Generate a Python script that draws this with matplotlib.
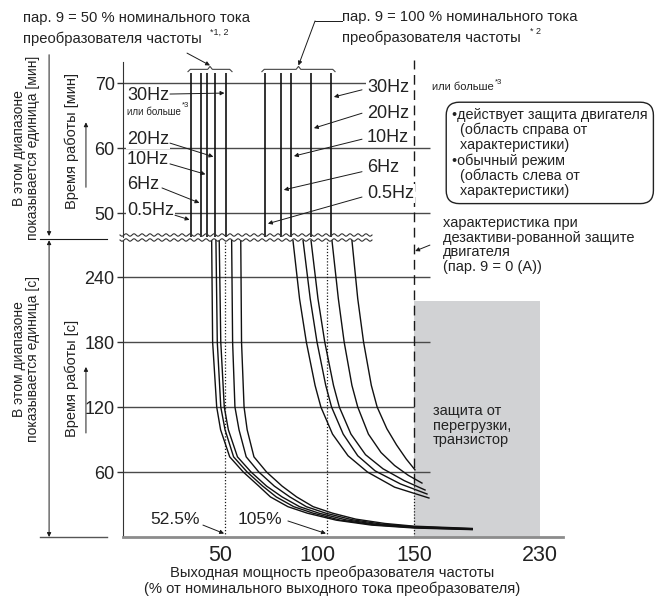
import numpy as np
import matplotlib.pyplot as plt
from matplotlib.lines import Line2D
from matplotlib.patches import Rectangle

plt.rcParams['font.family'] = ['Liberation Sans', 'DejaVu Sans']

W, H = 656, 596

# ---- values ----
hz_labels = ['0.5Hz', '6Hz', '10Hz', '20Hz', '30Hz']
trip_50 = [35.1, 40.2, 43.3, 47.4, 53.1]      # % of inverter current, minute range
trip_100 = [73.2, 81.4, 86.6, 96.9, 107.2]
trip_top = 71.6                                # min

curve50_x = [
    [45.7, 46.2, 48.3, 50.3, 55.0, 62.0, 70.0, 76.0, 85.0, 95.0, 110.0, 128.0, 150.0, 180.0],
    [47.9, 48.6, 50.4, 52.6, 57.0, 64.0, 72.0, 79.0, 88.0, 98.0, 112.0, 130.0, 150.0, 180.0],
    [49.6, 50.4, 52.2, 54.3, 59.0, 66.0, 74.0, 82.0, 91.0, 101.0, 115.0, 131.0, 150.0, 180.0],
    [56.0, 56.5, 57.7, 59.8, 63.5, 70.0, 78.0, 86.0, 94.5, 104.5, 118.0, 133.0, 150.0, 180.0],
    [60.7, 61.1, 62.4, 64.0, 67.5, 74.0, 82.0, 89.5, 98.0, 108.0, 120.0, 135.0, 150.0, 180.0],
]
curve50_s = [
    [274, 180, 120, 99, 74, 60, 47, 37, 28, 22, 15.5, 11.0, 8.3, 6.8],
    [274, 180, 120, 99, 74, 60, 47, 37, 28, 22, 15.6, 11.2, 8.7, 7.0],
    [274, 180, 120, 99, 74, 60, 47, 37, 28, 22, 15.8, 11.6, 9.1, 7.3],
    [274, 180, 120, 99, 74, 60, 47, 37, 28, 22, 16.0, 12.0, 9.5, 7.6],
    [274, 180, 120, 99, 74, 60, 47, 37, 28, 22, 16.5, 12.5, 10.0, 7.9],
]
curve100_x = [
    [87.6, 91.0, 94.5, 99.0, 102.0, 108.0, 116.0, 126.0, 140.0, 157.7],
    [92.8, 96.5, 100.0, 104.5, 107.5, 113.5, 121.0, 130.0, 143.0, 156.7],
    [96.9, 100.5, 104.0, 108.5, 111.5, 117.5, 125.0, 134.0, 145.0, 155.7],
    [107.7, 111.0, 114.0, 118.0, 121.0, 126.5, 133.0, 140.0, 147.0, 154.1],
    [118.0, 121.0, 124.0, 128.0, 131.0, 136.0, 141.0, 146.0, 150.5],
]
curve100_s = [
    [274, 220, 180, 140, 120, 95, 75, 60, 46, 36],
    [274, 220, 180, 140, 120, 95, 75, 61, 49, 39.7],
    [274, 220, 180, 140, 120, 95, 76, 63, 52, 43.4],
    [274, 220, 180, 140, 120, 95, 78, 66, 57, 49.8],
    [274, 220, 180, 140, 120, 100, 85, 72, 62],
]

x_ticks = [50, 100, 150, 215]
x_ticklabels = ['50', '100', '150', '230']
min_ticks = [50, 60, 70]
sec_ticks = [60, 120, 180, 240]
marks = [52.5, 105]
mark_labels = ['52.5%', '105%']
motor_off = 150
zone_x = [150, 215]
zone_top = 218

ink = '#1a1a1a'
grid_c = '#4a4a4a'
txt_c = '#222222'


def fx(px):
    return px / W


def fy(py):
    return 1 - py / H


fig = plt.figure(figsize=(W / 100, H / 100), dpi=100)
ax_lo = fig.add_axes([fx(123), fy(537), (563 - 123) / W, (537 - 240) / H])
ax_up = fig.add_axes([fx(123), fy(237), (563 - 123) / W, (237 - 62) / H])
xmax = 440 / 1.94
for ax in (ax_lo, ax_up):
    ax.set_xlim(0, xmax)
    ax.patch.set_alpha(0)
    ax.spines['right'].set_visible(False)
    ax.spines['top'].set_visible(False)
    ax.spines['left'].set_color('#333333')
    ax.tick_params(axis='y', direction='out', length=4.5, width=1, color='#333333',
                   labelsize=13, pad=1.5, labelcolor=txt_c)
ax_lo.set_ylim(0, 274.2)
ax_up.set_ylim(46.35, 73.28)
ax_up.spines['bottom'].set_visible(False)
ax_up.set_xticks([])
ax_lo.spines['bottom'].set_color('#8c8c8c')
ax_lo.spines['bottom'].set_linewidth(2)
ax_lo.set_yticks(sec_ticks)
ax_up.set_yticks(min_ticks)
ax_lo.set_xticks(x_ticks, x_ticklabels)
ax_lo.tick_params(axis='x', length=0, pad=6, labelsize=15.5, labelcolor=txt_c)

# grid lines
ax_up.hlines(70, 0, 125, color=grid_c, lw=1)
ax_up.hlines([60, 50], 0, 158, color=grid_c, lw=1)
ax_lo.hlines([240, 180, 60], 0, 158, color=grid_c, lw=1, zorder=2)
ax_lo.hlines(120, 0, 150, color=grid_c, lw=1, zorder=2)

# transistor overload zone
ax_lo.add_patch(Rectangle((zone_x[0], 0), zone_x[1] - zone_x[0], zone_top,
                          fc='#d1d2d4', ec='none', zorder=0))

# motor protection off line
ax_lo.vlines(motor_off, 50, 274.2, color=ink, lw=1, linestyles=(0, (7, 4)))
ax_lo.vlines(motor_off, 0, 50, color=ink, lw=0.9, linestyles=(0, (1, 1.5)))
ax_up.vlines(motor_off, 46.35, 73.6, color=ink, lw=1, linestyles=(0, (7, 4)), clip_on=False)
ax_lo.vlines(marks, 0, 274.2, color=ink, lw=0.9, linestyles=(0, (1, 1.5)))

# minute range: vertical characteristic lines
ax_up.vlines(trip_50 + trip_100, 46.35, trip_top, color='#111111', lw=1.2)

# seconds range curves
for xs, ss in zip(curve50_x + curve100_x, curve50_s + curve100_s):
    ax_lo.plot(xs, ss, color='#111111', lw=1.0, zorder=3)


# braces
def brace(ax, x0, x1, y):
    xm = (x0 + x1) / 2
    ax.plot([x0, x0 + 1.2, xm - 1.2, xm, xm + 1.2, x1 - 1.2, x1],
            [y - 0.35, y, y, y + 0.45, y, y, y - 0.35],
            color='#444444', lw=0.8, clip_on=False)
    return xm


m50 = brace(ax_up, trip_50[0] - 1.6, trip_50[-1] + 3.1, 72.15)
m100 = brace(ax_up, trip_100[0] - 1.6, trip_100[-1] + 2.1, 72.15)

arrow = dict(arrowstyle='-|>', lw=0.7, color=ink, mutation_scale=6, shrinkA=0, shrinkB=0)
ax_up.annotate('', xy=(m50, 72.75), xytext=(33, 74.65), arrowprops=arrow, annotation_clip=False)
ax_up.plot([99, 112.9], [79.6, 79.6], color=ink, lw=0.7, clip_on=False)
ax_up.annotate('', xy=(m100, 72.75), xytext=(99, 79.6), arrowprops=arrow, annotation_clip=False)

# Hz labels
white = dict(fc='white', ec='none', pad=0.6)
left_txt_y = [50.4, 54.4, 58.3, 61.4, 68.2]
left_tail = [(26.8, 49.7), (20.1, 53.9), (24.2, 57.6), (24.2, 60.8), (24.2, 68.35)]
left_head_y = [49.0, 51.6, 56.0, 58.7, 68.5]
for i, lab in enumerate(hz_labels):
    ax_up.text(2.1, left_txt_y[i], lab, fontsize=13, ha='left', va='center',
               color=txt_c, bbox=white, zorder=4)
    ax_up.annotate('', xy=(trip_50[i] - 0.8, left_head_y[i]), xytext=left_tail[i],
                   arrowprops=arrow, zorder=5)
ax_up.text(2.1, 65.6, 'или больше', fontsize=7, ha='left', va='center', color=txt_c)
ax_up.text(30.5, 66.6, '*3', fontsize=5.5, ha='left', va='center', color=txt_c)

right_txt_y = [53.1, 57.1, 61.7, 65.4, 69.4]
right_tail_y = [52.5, 56.4, 61.4, 65.4, 69.0]
right_head_y = [48.4, 53.6, 58.8, 63.1, 67.9]
for i, lab in enumerate(hz_labels):
    ax_up.text(125.8, right_txt_y[i], lab, fontsize=13, ha='left', va='center',
               color=txt_c, bbox=white, zorder=4)
    ax_up.annotate('', xy=(trip_100[i] + 1.5, right_head_y[i]), xytext=(123.2, right_tail_y[i]),
                   arrowprops=arrow, zorder=5)
fig.text(fx(432), fy(87), 'или больше', fontsize=8, ha='left', va='center', color=txt_c)
fig.text(fx(495), fy(82), '*3', fontsize=5.5, ha='left', va='center', color=txt_c)

# percent marks
mark_text_x = [26.8, 70.6]
mark_tail = [(41.2, 11), (85, 14.8)]
for i, lab in enumerate(mark_labels):
    ax_lo.text(mark_text_x[i], 15.7, lab, fontsize=12.5, ha='center', va='center', color=txt_c)
    ax_lo.annotate('', xy=(marks[i] - 0.4, 3.2), xytext=mark_tail[i], arrowprops=arrow)

# top texts
fig.text(fx(23), fy(18), 'пар. 9 = 50 % номинального тока', fontsize=10.6, va='center', color=txt_c)
fig.text(fx(23), fy(39), 'преобразователя частоты', fontsize=10.6, va='center', color=txt_c)
fig.text(fx(210), fy(32), '*1, 2', fontsize=6.5, va='center', color=txt_c)
fig.text(fx(342), fy(17), 'пар. 9 = 100 % номинального тока', fontsize=10.6, va='center', color=txt_c)
fig.text(fx(342), fy(38), 'преобразователя частоты', fontsize=10.6, va='center', color=txt_c)
fig.text(fx(530), fy(32), '* 2', fontsize=6.5, va='center', color=txt_c)

# legend box
fig.text(fx(452), fy(108),
         '•действует защита двигателя\n  (область справа от\n  характеристики)\n'
         '•обычный режим\n  (область слева от\n  характеристики)',
         fontsize=10.4, ha='left', va='top', linespacing=1.08, color=txt_c,
         bbox=dict(boxstyle='round,pad=0.4,rounding_size=0.9', fc='white', ec='#222222', lw=1))

# right side notes
fig.text(fx(443), fy(216), 'характеристика при\nдезактиви-рованной защите\nдвигателя\n(пар. 9 = 0 (А))',
         fontsize=10.5, ha='left', va='top', linespacing=1.05, color=txt_c)
ax_lo.annotate('', xy=(150.6, 264), xytext=(158.2, 269.5), arrowprops=arrow, annotation_clip=False)
fig.text(fx(433), fy(404), 'защита от\nперегрузки,\nтранзистор',
         fontsize=10.5, ha='left', va='top', linespacing=1.05, color=txt_c)

# axis titles
fig.text(fx(332), fy(566), 'Выходная мощность преобразователя частоты\n'
         '(% от номинального выходного тока преобразователя)',
         fontsize=10.6, ha='center', va='top', linespacing=1.1, color=txt_c)
fig.text(fx(26), fy(148), 'В этом диапазоне\nпоказывается единица [мин]', rotation=90,
         fontsize=10, ha='center', va='center', linespacing=1.05, color=txt_c)
fig.text(fx(26), fy(359), 'В этом диапазоне\nпоказывается единица [c]', rotation=90,
         fontsize=10, ha='center', va='center', linespacing=1.05, color=txt_c)
fig.text(fx(72), fy(141), 'Время работы [мин]', rotation=90, fontsize=10.5,
         ha='center', va='center', color=txt_c)
fig.text(fx(72), fy(378), 'Время работы [c]', rotation=90, fontsize=10.5,
         ha='center', va='center', color=txt_c)
ax_up.annotate('', xy=(-19.1, 64.0), xytext=(-19.1, 54.0), arrowprops=arrow, annotation_clip=False)
ax_lo.annotate('', xy=(-19.1, 157), xytext=(-19.1, 96), arrowprops=arrow, annotation_clip=False)

# range brackets on the far left
ax_up.annotate('', xy=(-38.1, 46.5), xytext=(-38.1, 74.4), arrowprops=arrow, annotation_clip=False)
ax_lo.annotate('', xy=(-38.1, 0), xytext=(-38.1, 274.0),
               arrowprops=dict(arrow, arrowstyle='<|-|>'), annotation_clip=False)
ax_lo.plot([-42.8, -8.2], [275.1, 275.1], color=ink, lw=0.8, clip_on=False)
ax_lo.plot([-42.8, -8.2], [0, 0], color='#555555', lw=1, clip_on=False)

# axis break (wavy lines)
bx = np.linspace(120, 372, 400)
for by in (235, 240):
    wave = by + 1.2 * np.sin(2 * np.pi * bx / 8)
    fig.add_artist(Line2D(fx(bx), fy(wave), transform=fig.transFigure, lw=0.8, color='#333333'))

fig.savefig('out.png', dpi=100)
